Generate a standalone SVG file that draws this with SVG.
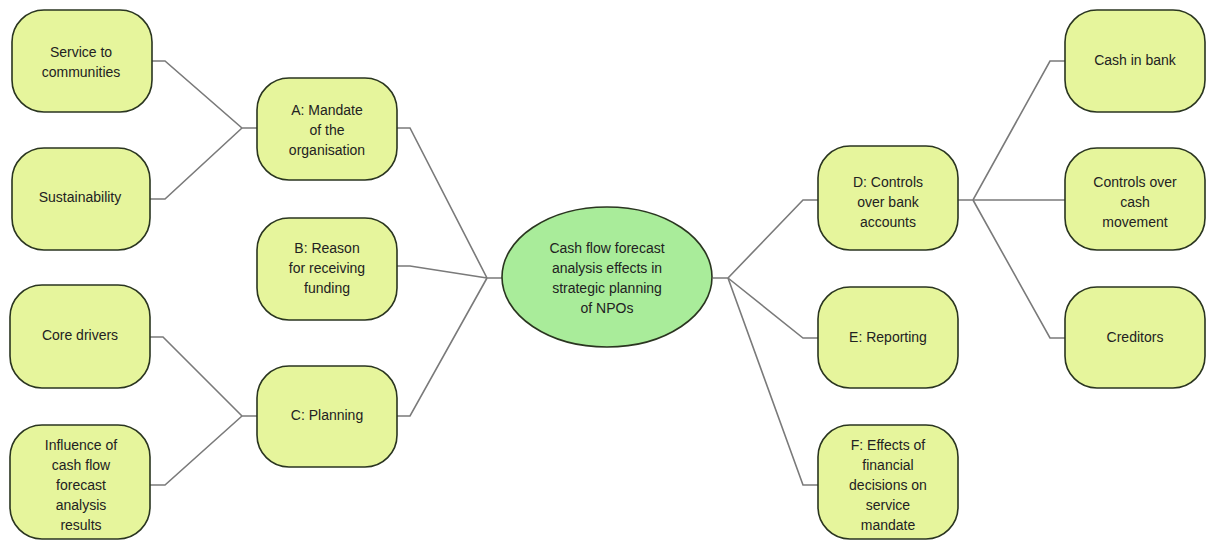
<svg xmlns="http://www.w3.org/2000/svg" width="1209" height="541" viewBox="0 0 1209 541">
<style>
.box{fill:#e6f59c;stroke:#2a3520;stroke-width:1.6}
.ell{fill:#a9ec9a;stroke:#2a3520;stroke-width:1.6}
.t{font-family:"Liberation Sans",Arial,sans-serif;font-size:14px;fill:#222;text-anchor:middle}
.c{fill:none;stroke:#7a7a7a;stroke-width:1.6}
</style>
<rect width="1209" height="541" fill="#ffffff"/>
<g id="connectors">
<polyline class="c" points="152,61 165,61 242,128 257,128"/>
<polyline class="c" points="150,199 165,199 242,128"/>
<polyline class="c" points="150,337 163,337 242,416 257,416"/>
<polyline class="c" points="150,485 165,485 242,416"/>
<polyline class="c" points="397,128 410,128 487,278 502,278"/>
<polyline class="c" points="397,266 410,266 487,278"/>
<polyline class="c" points="397,416 410,416 487,278"/>
<polyline class="c" points="713,278 728,278 803,200 818,200"/>
<polyline class="c" points="728,278 803,338 818,338"/>
<polyline class="c" points="728,278 803,485 818,485"/>
<polyline class="c" points="958,200 973,200 1050,61 1065,61"/>
<polyline class="c" points="973,200 1065,200"/>
<polyline class="c" points="973,200 1050,338 1065,338"/>
</g>
<g id="service">
<rect class="box" x="12" y="10" width="140" height="102" rx="32"/>
<text class="t" x="81" y="57">Service to</text><text class="t" x="81" y="77">communities</text>
</g>
<g id="sustainability">
<rect class="box" x="12" y="148" width="138" height="102" rx="32"/>
<text class="t" x="80" y="202">Sustainability</text>
</g>
<g id="a">
<rect class="box" x="257" y="78" width="140" height="102" rx="32"/>
<text class="t" x="327" y="115">A: Mandate</text><text class="t" x="327" y="135">of the</text><text class="t" x="327" y="155">organisation</text>
</g>
<g id="b">
<rect class="box" x="257" y="218" width="140" height="102" rx="32"/>
<text class="t" x="327" y="253">B: Reason</text><text class="t" x="327" y="273">for receiving</text><text class="t" x="327" y="293">funding</text>
</g>
<g id="core">
<rect class="box" x="10" y="285" width="140" height="103" rx="32"/>
<text class="t" x="80" y="340">Core drivers</text>
</g>
<g id="influence">
<rect class="box" x="10" y="425" width="140" height="114" rx="32"/>
<text class="t" x="81" y="450">Influence of</text><text class="t" x="81" y="470">cash flow</text><text class="t" x="81" y="490">forecast</text><text class="t" x="81" y="510">analysis</text><text class="t" x="81" y="530">results</text>
</g>
<g id="c">
<rect class="box" x="257" y="366" width="140" height="101" rx="32"/>
<text class="t" x="327" y="420">C: Planning</text>
</g>
<g id="center">
<ellipse class="ell" cx="607" cy="277" rx="105" ry="70"/>
<text class="t" x="607" y="253">Cash flow forecast</text><text class="t" x="607" y="273">analysis effects in</text><text class="t" x="607" y="293">strategic planning</text><text class="t" x="607" y="313">of NPOs</text>
</g>
<g id="d">
<rect class="box" x="818" y="146" width="140" height="104" rx="32"/>
<text class="t" x="888" y="187">D: Controls</text><text class="t" x="888" y="207">over bank</text><text class="t" x="888" y="227">accounts</text>
</g>
<g id="e">
<rect class="box" x="818" y="287" width="140" height="101" rx="32"/>
<text class="t" x="888" y="342">E: Reporting</text>
</g>
<g id="f">
<rect class="box" x="818" y="425" width="140" height="114" rx="32"/>
<text class="t" x="888" y="450">F: Effects of</text><text class="t" x="888" y="470">financial</text><text class="t" x="888" y="490">decisions on</text><text class="t" x="888" y="510">service</text><text class="t" x="888" y="530">mandate</text>
</g>
<g id="cashbank">
<rect class="box" x="1065" y="10" width="140" height="102" rx="32"/>
<text class="t" x="1135" y="65">Cash in bank</text>
</g>
<g id="cashmove">
<rect class="box" x="1065" y="148" width="140" height="102" rx="32"/>
<text class="t" x="1135" y="187">Controls over</text><text class="t" x="1135" y="207">cash</text><text class="t" x="1135" y="227">movement</text>
</g>
<g id="creditors">
<rect class="box" x="1065" y="287" width="140" height="101" rx="32"/>
<text class="t" x="1135" y="342">Creditors</text>
</g>
</svg>
